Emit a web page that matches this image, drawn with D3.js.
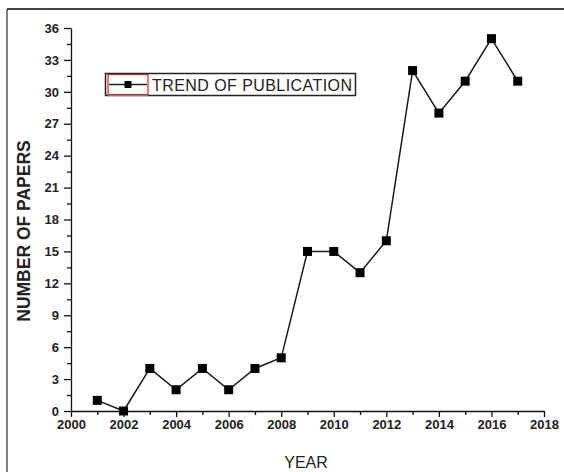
<!DOCTYPE html>
<html><head><meta charset="utf-8">
<script src="https://cdn.jsdelivr.net/npm/d3@7"></script>
<style>body{margin:0;background:#fff}svg{display:block}</style>
</head><body>
<script>
const years = [2001,2002,2003,2004,2005,2006,2007,2008,2009,2010,2011,2012,2013,2014,2015,2016,2017];
const papers = [1,0,4,2,4,2,4,5,15,15,13,16,32,28,31,35,31];
const xTicks = [2000,2002,2004,2006,2008,2010,2012,2014,2016,2018];
const yTicks = [0,3,6,9,12,15,18,21,24,27,30,33,36];
const seriesName = "TREND OF PUBLICATION";

const W=564,H=472;
const svg=d3.select("body").append("svg").attr("width",W).attr("height",H);
svg.append("rect").attr("width",W).attr("height",H).attr("fill","#fff");
// frame (top & left)
svg.append("line").attr("x1",7).attr("x2",W).attr("y1",9).attr("y2",9).attr("stroke","#444").attr("stroke-width",2);
svg.append("line").attr("x1",7).attr("x2",7).attr("y1",9).attr("y2",H).attr("stroke","#555").attr("stroke-width",1.5);

const x=d3.scaleLinear().domain([2000,2018]).range([71,544]);
const y=d3.scaleLinear().domain([0,36]).range([411,28]);
const font="'Liberation Sans', Arial, sans-serif";

// x axis
const gx=svg.append("g").attr("transform","translate(0,411)");
gx.call(d3.axisBottom(x).tickValues(d3.range(2001,2018,2)).tickSize(4).tickFormat(""));
gx.selectAll(".tick line").attr("stroke","#111").attr("stroke-width",1.3);
gx.select(".domain").remove();
const gx2=svg.append("g").attr("transform","translate(0,411)");
gx2.call(d3.axisBottom(x).tickValues(xTicks).tickSize(6).tickSizeOuter(0).tickFormat(d3.format("d")).tickPadding(3));
gx2.selectAll("path,line").attr("stroke","#111").attr("stroke-width",1.3);
gx2.selectAll("text").attr("font-family",font).attr("font-size",13).attr("font-weight","bold").attr("fill","#222");

// y axis
const gy=svg.append("g").attr("transform","translate(71,0)");
gy.call(d3.axisLeft(y).tickValues(d3.range(1.5,36,3)).tickSize(4).tickFormat(""));
gy.selectAll(".tick line").attr("stroke","#111").attr("stroke-width",1.3);
gy.select(".domain").remove();
const gy2=svg.append("g").attr("transform","translate(71,0)");
gy2.call(d3.axisLeft(y).tickValues(yTicks).tickSize(7).tickSizeOuter(0).tickPadding(5));
gy2.selectAll("path,line").attr("stroke","#111").attr("stroke-width",1.3);
gy2.selectAll("text").attr("font-family",font).attr("font-size",13).attr("font-weight","bold").attr("fill","#222");

// axis titles
svg.append("text").attr("x",306).attr("y",468).attr("text-anchor","middle")
  .attr("font-family",font).attr("font-size",16).attr("fill","#222").text("YEAR");
svg.append("text").attr("transform","translate(30,231) rotate(-90)").attr("text-anchor","middle")
  .attr("font-family",font).attr("font-size",17.5).attr("font-weight","bold").attr("fill","#222")
  .text("NUMBER OF PAPERS");

// line
const data=years.map((d,i)=>({x:d,y:papers[i]}));
svg.append("path").datum(data).attr("fill","none").attr("stroke","#1a1a1a").attr("stroke-width",1.5)
  .attr("d",d3.line().x(d=>x(d.x)).y(d=>y(d.y)));
const ms=9;
svg.selectAll("rect.pt").data(data).join("rect").attr("class","pt")
  .attr("x",d=>x(d.x)-ms/2).attr("y",d=>y(d.y)-ms/2).attr("width",ms).attr("height",ms).attr("fill","#000");

// legend
const lg=svg.append("g");
lg.append("rect").attr("x",105.5).attr("y",73.5).attr("width",250).attr("height",22).attr("fill","#fff").attr("stroke","#222").attr("stroke-width",1.5);
lg.append("line").attr("x1",108).attr("x2",148).attr("y1",95).attr("y2",95).attr("stroke","#5bc8dc").attr("stroke-width",1.5);
lg.append("rect").attr("x",108).attr("y",74.5).attr("width",40).attr("height",20).attr("fill","none").attr("stroke","#e02020").attr("stroke-width",1.2);
lg.append("line").attr("x1",109).attr("x2",147).attr("y1",84.5).attr("y2",84.5).attr("stroke","#222").attr("stroke-width",1.3);
lg.append("rect").attr("x",124.5).attr("y",81).attr("width",7).attr("height",7).attr("fill","#000");
lg.append("text").attr("x",152).attr("y",90.5).attr("font-family",font).attr("font-size",16).attr("fill","#222")
  .attr("textLength",200).attr("lengthAdjust","spacing").text(seriesName);
</script>
</body></html>
